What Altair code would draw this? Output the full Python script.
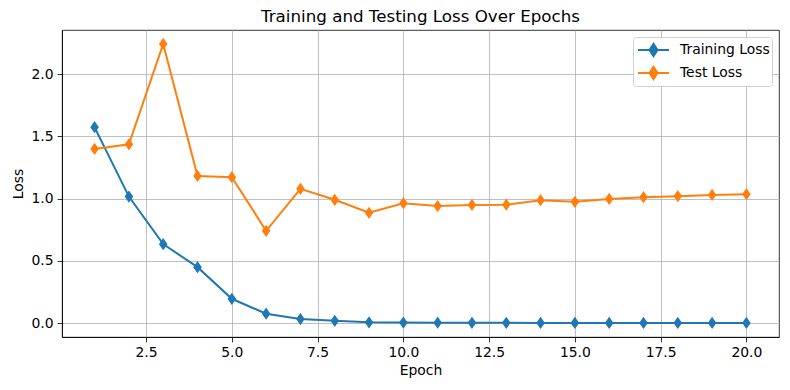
import altair as alt
import pandas as pd

epochs = list(range(1, 21))
train_loss = [1.573, 1.016, 0.634, 0.449, 0.195, 0.075, 0.032, 0.018, 0.006, 0.004,
              0.003, 0.002, 0.002, 0.001, 0.001, 0.001, 0.001, 0.001, 0.001, 0.001]
test_loss = [1.399, 1.436, 2.242, 1.182, 1.172, 0.741, 1.078, 0.990, 0.886, 0.963,
             0.940, 0.949, 0.951, 0.987, 0.974, 0.997, 1.011, 1.019, 1.029, 1.035]
series_names = ["Training Loss", "Test Loss"]
colors = ["#1f77b4", "#ff7f0e"]
x_ticks = [2.5, 5.0, 7.5, 10.0, 12.5, 15.0, 17.5, 20.0]
y_ticks = [0.0, 0.5, 1.0, 1.5, 2.0]

rows = []
for e, v in zip(epochs, train_loss):
    rows.append({"Epoch": e, "Loss": v, "Series": series_names[0]})
for e, v in zip(epochs, test_loss):
    rows.append({"Epoch": e, "Loss": v, "Series": series_names[1]})
df = pd.DataFrame(rows)

diamond = "M0,-1L0.7,0L0,1L-0.7,0Z"
legend_sym = "M-1.55,0L1.55,0M0,-0.62L0.4,0L0,0.62L-0.4,0Z"

font = "DejaVu Sans"
fs = 13.9

chart = alt.Chart(df).mark_line(
    strokeWidth=2,
    point=alt.OverlayMarkDef(shape=diamond, size=150, filled=True, opacity=1),
).encode(
    x=alt.X("Epoch:Q", scale=alt.Scale(domain=[0.05, 20.95], nice=False, zero=False),
            axis=alt.Axis(values=x_ticks, format=".1f", title="Epoch", titlePadding=4)),
    y=alt.Y("Loss:Q", scale=alt.Scale(domain=[-0.112, 2.354], nice=False, zero=False),
            axis=alt.Axis(values=y_ticks, format=".1f", title="Loss", titlePadding=6)),
    color=alt.Color("Series:N", scale=alt.Scale(domain=series_names, range=colors),
                    legend=alt.Legend(title=None, orient="none", legendX=571, legendY=7,
                                      symbolType=legend_sym, symbolSize=400,
                                      symbolStrokeWidth=2, symbolOffset=7.5,
                                      labelOffset=15.5,
                                      labelFontSize=fs, labelFont=font,
                                      labelColor="black",
                                      padding=2, rowPadding=1,
                                      strokeColor="#d0d0d0", fillColor="white",
                                      cornerRadius=3)),
    order="Epoch:Q",
).properties(
    width=717, height=307,
    title=alt.Title("Training and Testing Loss Over Epochs", fontSize=16.7, fontWeight="normal",
                    font=font, color="black", offset=4),
    autosize=alt.AutoSizeParams(type="none"),
    padding={"left": 54, "top": 22, "right": 2, "bottom": 45},
).configure_axis(
    grid=True, gridColor="#b0b0b0", gridWidth=0.8,
    domainColor="black", domainWidth=0.8,
    tickColor="black", tickSize=4.9, tickWidth=0.8,
    labelFont=font, labelFontSize=fs, labelColor="black", labelPadding=4,
    titleFont=font, titleFontSize=fs, titleFontWeight="normal", titleColor="black",
).configure_view(stroke="black", strokeWidth=0.8)

chart.save("out.html", embed_options={"renderer": "svg", "actions": False})
